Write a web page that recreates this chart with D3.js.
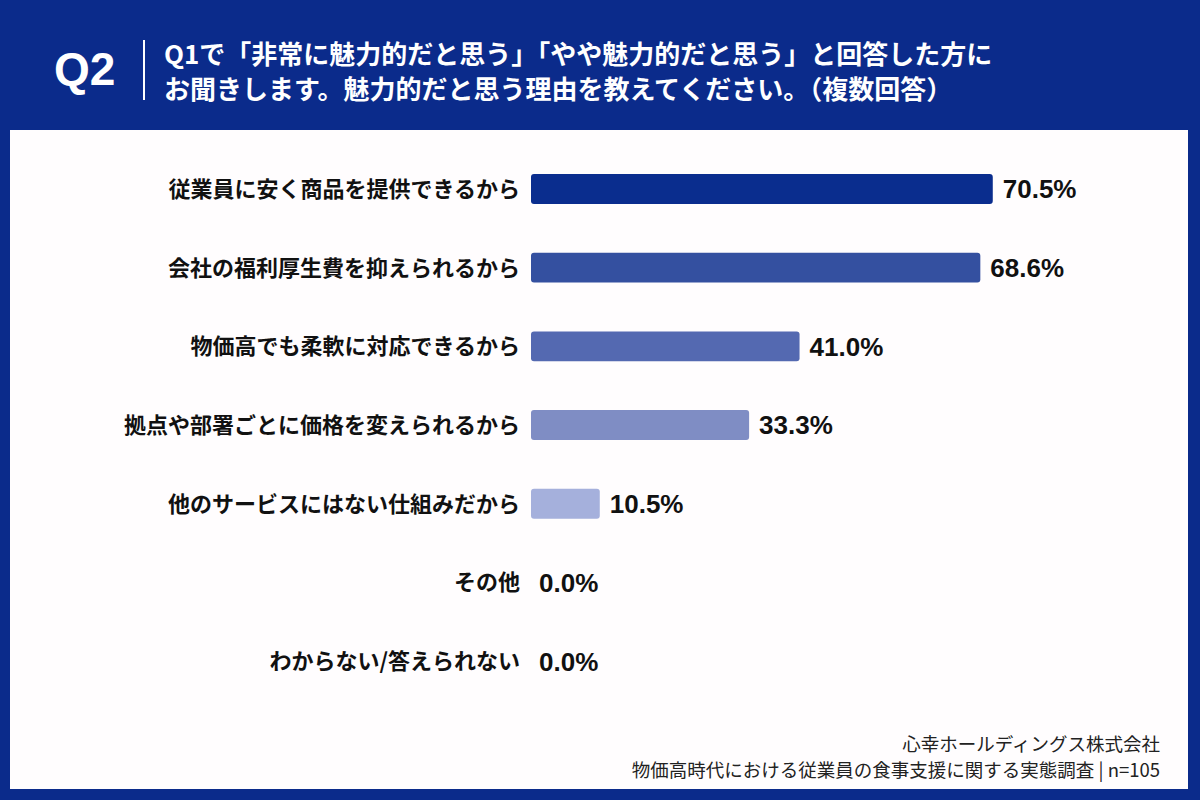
<!DOCTYPE html>
<html>
<head>
<meta charset="utf-8">
<script src="https://cdn.jsdelivr.net/npm/d3@7"></script>
<style>
  html, body { margin: 0; padding: 0; background: #0b2b8b; }
  svg { display: block; }
</style>
</head>
<body>
<div id="chart"></div>
<script>
const categories = [
    "従業員に安く商品を提供できるから",
    "会社の福利厚生費を抑えられるから",
    "物価高でも柔軟に対応できるから",
    "拠点や部署ごとに価格を変えられるから",
    "他のサービスにはない仕組みだから",
    "その他",
    "わからない/答えられない"
];
const values = [70.5, 68.6, 41.0, 33.3, 10.5, 0.0, 0.0];
const barColors = ["#0a2d8e", "#3450a0", "#5469b1", "#7f8dc4", "#a5b0dc", "#c5cbe8", "#c5cbe8"];

const titleLines = [
    "Q1で「非常に魅力的だと思う」「やや魅力的だと思う」と回答した方に",
    "お聞きします。魅力的だと思う理由を教えてください。（複数回答）"
];
const footerLines = [
    "心幸ホールディングス株式会社",
    "物価高時代における従業員の食事支援に関する実態調査 | n=105"
];

const W = 1200, H = 800;
const font = "'Noto Sans CJK JP', 'Noto Sans', sans-serif";
const latin = "'Liberation Sans', Arial, sans-serif";

const svg = d3.select("#chart")
              .append("svg")
              .attr("width", W)
              .attr("height", H);

// background + panel
svg.append("rect").attr("width", W).attr("height", H).attr("fill", "#0b2b8b");
svg.append("rect")
   .attr("x", 10).attr("y", 130)
   .attr("width", 1178).attr("height", 659)
   .attr("fill", "#fffdfe");

// header
svg.append("text")
   .attr("x", 54).attr("y", 85)
   .attr("fill", "#fff")
   .style("font-family", latin)
   .style("font-weight", 700)
   .style("font-size", "46px")
   .text("Q2");

svg.append("line")
   .attr("x1", 144).attr("x2", 144)
   .attr("y1", 40).attr("y2", 100)
   .attr("stroke", "#fff")
   .attr("stroke-width", 2);

svg.selectAll(".title")
   .data(titleLines)
   .join("text")
   .attr("class", "title")
   .attr("x", 164)
   .attr("y", (d, i) => 64 + i * 35)
   .attr("fill", "#fff")
   .style("font-family", font)
   .style("font-weight", 700)
   .style("font-size", "26px")
   .text(d => d);

// scales
const x = d3.scaleLinear()
            .domain([0, 100])
            .range([531, 1186]);

const y = d3.scaleBand()
            .domain(categories)
            .range([149.6, 700.5])
            .paddingInner(0.62)
            .paddingOuter(0.31);

const data = categories.map((c, i) => ({ cat: c, value: values[i], color: barColors[i] }));

// bars
svg.selectAll(".bar")
   .data(data.filter(d => d.value > 0))
   .join("rect")
   .attr("class", "bar")
   .attr("x", x(0))
   .attr("y", d => y(d.cat))
   .attr("width", d => x(d.value) - x(0))
   .attr("height", y.bandwidth())
   .attr("rx", 3)
   .attr("fill", d => d.color);

// category labels
svg.selectAll(".cat")
   .data(data)
   .join("text")
   .attr("class", "cat")
   .attr("x", 520)
   .attr("y", d => y(d.cat) + y.bandwidth() / 2)
   .attr("dy", "0.36em")
   .attr("text-anchor", "end")
   .attr("fill", "#111")
   .style("font-family", font)
   .style("font-weight", 700)
   .style("font-size", "22px")
   .text(d => d.cat);

// value labels
svg.selectAll(".val")
   .data(data)
   .join("text")
   .attr("class", "val")
   .attr("x", d => x(d.value) + (d.value > 0 ? 10 : 8))
   .attr("y", d => y(d.cat) + y.bandwidth() / 2)
   .attr("dy", "0.36em")
   .attr("fill", "#111")
   .style("font-family", latin)
   .style("font-weight", 700)
   .style("font-size", "26px")
   .text(d => d.value.toFixed(1) + "%");

// footer
svg.selectAll(".foot")
   .data(footerLines)
   .join("text")
   .attr("class", "foot")
   .attr("x", 1160)
   .attr("y", (d, i) => 751 + i * 26)
   .attr("text-anchor", "end")
   .attr("fill", "#222")
   .style("font-family", font)
   .style("font-size", "18.5px")
   .text(d => d);
</script>
</body>
</html>
